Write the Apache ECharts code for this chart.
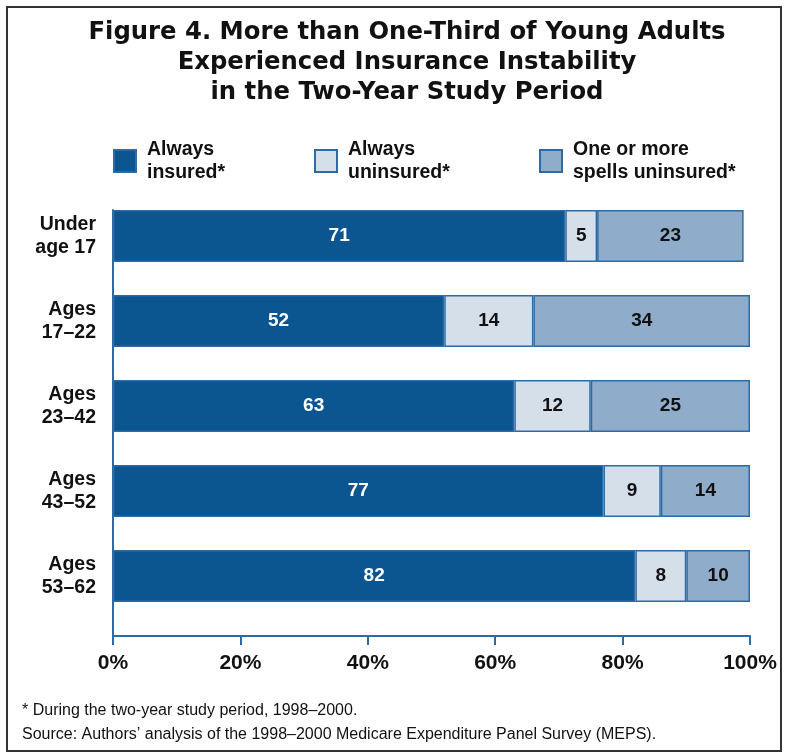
<!DOCTYPE html>
<html>
<head>
<meta charset="utf-8">
<script src="https://cdn.jsdelivr.net/npm/echarts@6/dist/echarts.min.js"></script>
<style>
  html, body { margin: 0; padding: 0; background: #fff; }
  #chart { width: 788px; height: 756px; }
</style>
</head>
<body>
<div id="chart"></div>
<script>
// Age groups, top to bottom
const ageGroups = ['Under\nage 17', 'Ages\n17–22', 'Ages\n23–42', 'Ages\n43–52', 'Ages\n53–62'];
// Percent of each age group by insurance status over the study period
const alwaysInsured = [71, 52, 63, 77, 82];
const alwaysUninsured = [5, 14, 12, 9, 8];
const spellsUninsured = [23, 34, 25, 14, 10];
const seriesNames = ['Always\ninsured*', 'Always\nuninsured*', 'One or more\nspells uninsured*'];
const percentTicks = [0, 20, 40, 60, 80, 100];

const FONT = '"Liberation Sans", Arial, Helvetica, sans-serif';
const TITLE_FONT = '"DejaVu Sans", "Liberation Sans", Arial, sans-serif';
const DARK = '#0b5591';
const LIGHT = '#d5dfea';
const MID = '#8fadca';
const EDGE = '#2f6ba3';

const chart = echarts.init(document.getElementById('chart'), null, { renderer: 'canvas' });

function barSeries(name, data, fill, labelColor) {
  return {
    name: name,
    type: 'bar',
    stack: 'total',
    xAxisIndex: 0,
    yAxisIndex: 0,
    barWidth: 52,
    data: data,
    itemStyle: { color: fill, borderColor: EDGE, borderWidth: 1.5 },
    label: {
      show: true,
      position: 'inside',
      color: labelColor,
      fontFamily: FONT,
      fontWeight: 'bold',
      fontSize: 19
    },
    emphasis: { disabled: true },
    animation: false
  };
}

function legendAt(name, left) {
  return {
    data: [name],
    left: left,
    top: 133,
    orient: 'horizontal',
    itemWidth: 22,
    itemHeight: 22,
    itemGap: 0,
    selectedMode: false,
    icon: 'rect',
    textStyle: {
      fontFamily: FONT,
      fontWeight: 'bold',
      fontSize: 19.5,
      color: '#111',
      lineHeight: 23,
      padding: [0, 0, 0, 6]
    }
  };
}

const option = {
  backgroundColor: '#fff',
  animation: false,
  title: {
    text: 'Figure 4. More than One-Third of Young Adults\nExperienced Insurance Instability\nin the Two-Year Study Period',
    left: 402,
    top: 13,
    textAlign: 'center',
    textStyle: {
      fontFamily: TITLE_FONT,
      fontWeight: 'bold',
      fontSize: 24.3,
      lineHeight: 30,
      color: '#111'
    }
  },
  legend: [
    legendAt(seriesNames[0], 108),
    legendAt(seriesNames[1], 309),
    legendAt(seriesNames[2], 534)
  ],
  grid: [
    // bars
    { left: 113, right: 38, top: 193.5, height: 425, containLabel: false },
    // axis frame
    { left: 113, right: 38, top: 210, height: 426, containLabel: false }
  ],
  xAxis: [
    {
      gridIndex: 0, type: 'value', min: 0, max: 100, interval: 20,
      show: false
    },
    {
      gridIndex: 1, type: 'value', min: 0, max: 100, interval: 20,
      axisLine: { show: true, lineStyle: { color: EDGE, width: 2 } },
      axisTick: { show: true, inside: false, length: 9, lineStyle: { color: EDGE, width: 2 } },
      splitLine: { show: false },
      axisLabel: {
        margin: 17,
        formatter: v => percentTicks.includes(v) ? v + '%' : '',
        fontFamily: FONT, fontWeight: 'bold', fontSize: 21, color: '#111'
      }
    }
  ],
  yAxis: [
    {
      gridIndex: 0, type: 'category', inverse: true, data: ageGroups,
      axisLine: { show: false },
      axisTick: { show: false },
      axisLabel: {
        margin: 17,
        align: 'right',
        fontFamily: FONT, fontWeight: 'bold', fontSize: 19.5, lineHeight: 23, color: '#111'
      }
    },
    {
      gridIndex: 1, type: 'value', min: 0, max: 1,
      axisLine: { show: true, lineStyle: { color: EDGE, width: 2 } },
      axisTick: { show: false },
      axisLabel: { show: false },
      splitLine: { show: false }
    }
  ],
  series: [
    barSeries(seriesNames[0], alwaysInsured, DARK, '#fff'),
    barSeries(seriesNames[1], alwaysUninsured, LIGHT, '#111'),
    barSeries(seriesNames[2], spellsUninsured, MID, '#111')
  ],
  graphic: [
    {
      type: 'rect',
      shape: { x: 7, y: 7, width: 774, height: 744 },
      style: { fill: 'none', stroke: '#333', lineWidth: 2 },
      silent: true
    },
    {
      type: 'text',
      left: 22, top: 703,
      style: { text: '* During the two-year study period, 1998–2000.', font: '16px ' + FONT, fill: '#111' }
    },
    {
      type: 'text',
      left: 22, top: 727,
      style: { text: 'Source: Authors’ analysis of the 1998–2000 Medicare Expenditure Panel Survey (MEPS).', font: '16px ' + FONT, fill: '#111' }
    }
  ]
};

chart.setOption(option);
</script>
</body>
</html>
